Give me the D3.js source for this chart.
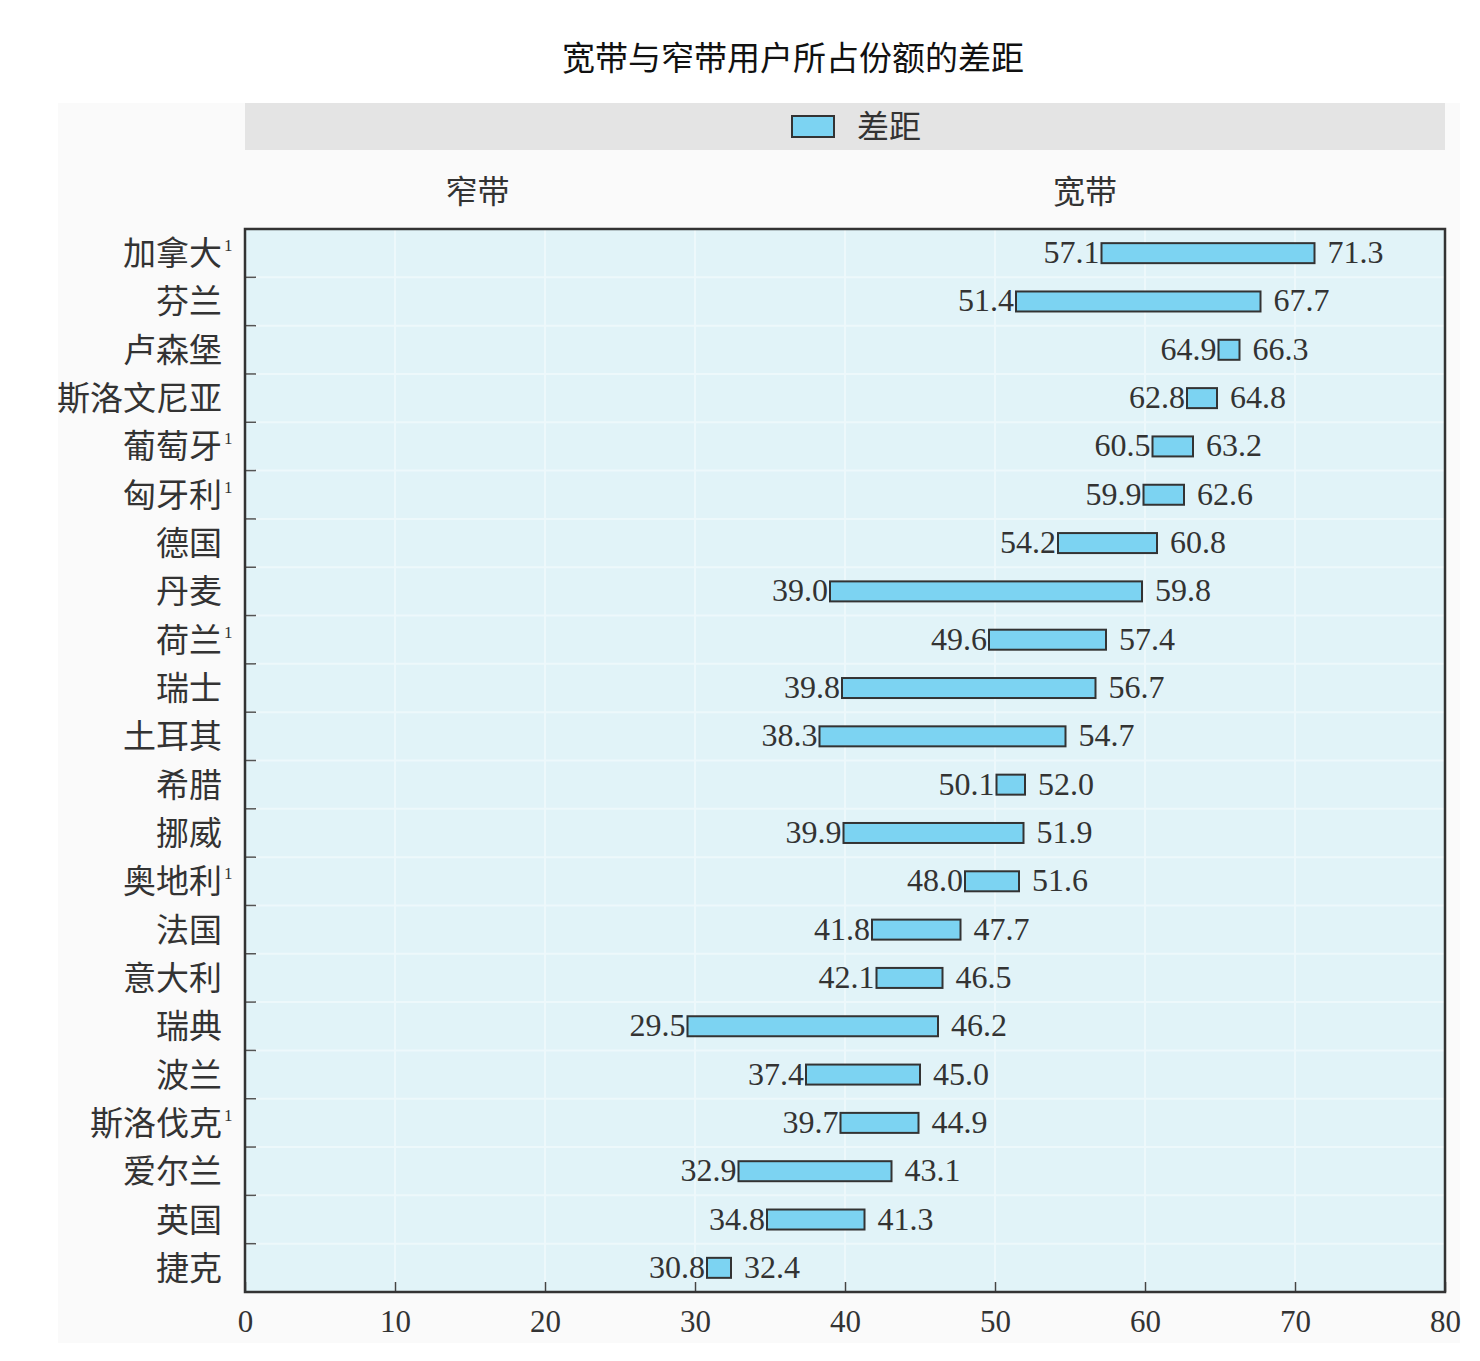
<!DOCTYPE html>
<html><head><meta charset="utf-8">
<script src="https://cdn.jsdelivr.net/npm/d3@7"></script>
<style>body{margin:0;background:#fff}</style>
</head><body>
<script>
const countries = ["加拿大","芬兰","卢森堡","斯洛文尼亚","葡萄牙","匈牙利","德国","丹麦","荷兰","瑞士","土耳其","希腊","挪威","奥地利","法国","意大利","瑞典","波兰","斯洛伐克","爱尔兰","英国","捷克"];
const footnote = [true,false,false,false,true,true,false,false,true,false,false,false,false,true,false,false,false,false,true,false,false,false];
const narrowband = [57.1,51.4,64.9,62.8,60.5,59.9,54.2,39.0,49.6,39.8,38.3,50.1,39.9,48.0,41.8,42.1,29.5,37.4,39.7,32.9,34.8,30.8];
const broadband = [71.3,67.7,66.3,64.8,63.2,62.6,60.8,59.8,57.4,56.7,54.7,52.0,51.9,51.6,47.7,46.5,46.2,45.0,44.9,43.1,41.3,32.4];
const xTicks = [0,10,20,30,40,50,60,70,80];
const title = "宽带与窄带用户所占份额的差距";
const legendLabel = "差距";
const headers = [{t:"窄带", v:15.5},{t:"宽带", v:56.0}];

const W=1480,H=1361;
const L=245,R=1445,T=229,B=1292;
const cjk = "'Noto Sans CJK SC','Noto Sans CJK JP',sans-serif";
const serif = "'Liberation Serif','Times New Roman',serif";

const svg=d3.select("body").append("svg").attr("width",W).attr("height",H);
svg.append("rect").attr("width",W).attr("height",H).attr("fill","#fff");
svg.append("rect").attr("x",58).attr("y",103).attr("width",1402).attr("height",1240).attr("fill","#fafafa");
svg.append("rect").attr("x",L).attr("y",103).attr("width",R-L).attr("height",47).attr("fill","#e4e4e4");

svg.append("text").attr("x",793).attr("y",70).attr("text-anchor","middle")
  .attr("font-family",cjk).attr("font-size",33).attr("fill","#111").text(title);

// legend
svg.append("rect").attr("x",792).attr("y",116).attr("width",42).attr("height",21)
  .attr("fill","#7cd3f2").attr("stroke","#333").attr("stroke-width",2);
svg.append("text").attr("x",857).attr("y",138).attr("font-family",cjk).attr("font-size",32).attr("fill","#333").text(legendLabel);

const x=d3.scaleLinear().domain([0,80]).range([L,R]);
const y=d3.scaleBand().domain(countries).range([T,B]).padding(0);

headers.forEach(h=>{
  svg.append("text").attr("x",x(h.v)).attr("y",203).attr("text-anchor","middle")
    .attr("font-family",cjk).attr("font-size",32).attr("fill","#333").text(h.t);
});

svg.append("rect").attr("x",L).attr("y",T).attr("width",R-L).attr("height",B-T).attr("fill","#e1f3f8");

// grid
const g=svg.append("g");
g.selectAll(".vg").data(xTicks.slice(1,-1)).join("line")
  .attr("x1",d=>x(d)).attr("x2",d=>x(d)).attr("y1",T).attr("y2",B)
  .attr("stroke","#edf8fb").attr("stroke-width",2);
g.selectAll(".hg").data(countries.slice(1)).join("line")
  .attr("x1",L).attr("x2",R).attr("y1",d=>y(d)).attr("y2",d=>y(d))
  .attr("stroke","#edf8fb").attr("stroke-width",2);

// left ticks (inward)
g.selectAll(".lt").data(countries.slice(1)).join("line")
  .attr("x1",L).attr("x2",L+11).attr("y1",d=>y(d)).attr("y2",d=>y(d))
  .attr("stroke","#555").attr("stroke-width",1.5);

// bottom axis
const xAxis=svg.append("g").attr("transform",`translate(0,${B})`)
  .call(d3.axisBottom(x).tickValues(xTicks).tickSize(-10).tickPadding(18).tickFormat(d3.format("d")));
xAxis.select(".domain").remove();
xAxis.selectAll("line").attr("stroke","#444").attr("stroke-width",1.5);
xAxis.selectAll("text").attr("font-family",serif).attr("font-size",31).attr("fill","#333").attr("dy","0.71em");

// bars
const data=countries.map((c,i)=>({c,a:narrowband[i],b:broadband[i],f:footnote[i]}));
const bh=20;
svg.selectAll(".bar").data(data).join("rect")
  .attr("x",d=>x(d.a)).attr("width",d=>x(d.b)-x(d.a))
  .attr("y",d=>y(d.c)+y.bandwidth()/2-bh/2).attr("height",bh)
  .attr("fill","#7cd3f2").attr("stroke","#333").attr("stroke-width",2);

svg.selectAll(".la").data(data).join("text")
  .attr("x",d=>x(d.a)-2).attr("y",d=>y(d.c)+y.bandwidth()/2+10)
  .attr("text-anchor","end").attr("font-family",serif).attr("font-size",32).attr("fill","#333")
  .text(d=>d.a.toFixed(1));
svg.selectAll(".lb").data(data).join("text")
  .attr("x",d=>x(d.b)+13).attr("y",d=>y(d.c)+y.bandwidth()/2+10)
  .attr("font-family",serif).attr("font-size",32).attr("fill","#333")
  .text(d=>d.b.toFixed(1));

// category labels
const cl=svg.selectAll(".cl").data(data).join("g");
cl.append("text").attr("x",222).attr("y",d=>y(d.c)+y.bandwidth()/2+12)
  .attr("text-anchor","end").attr("font-family",cjk).attr("font-size",33).attr("fill","#333").text(d=>d.c);
cl.filter(d=>d.f).append("text").attr("x",224).attr("y",d=>y(d.c)+y.bandwidth()/2-2)
  .attr("font-family",serif).attr("font-size",17).attr("fill","#333").text("1");

// border
svg.append("rect").attr("x",L).attr("y",T).attr("width",R-L).attr("height",B-T)
  .attr("fill","none").attr("stroke","#333").attr("stroke-width",2.5);
</script>
</body></html>
